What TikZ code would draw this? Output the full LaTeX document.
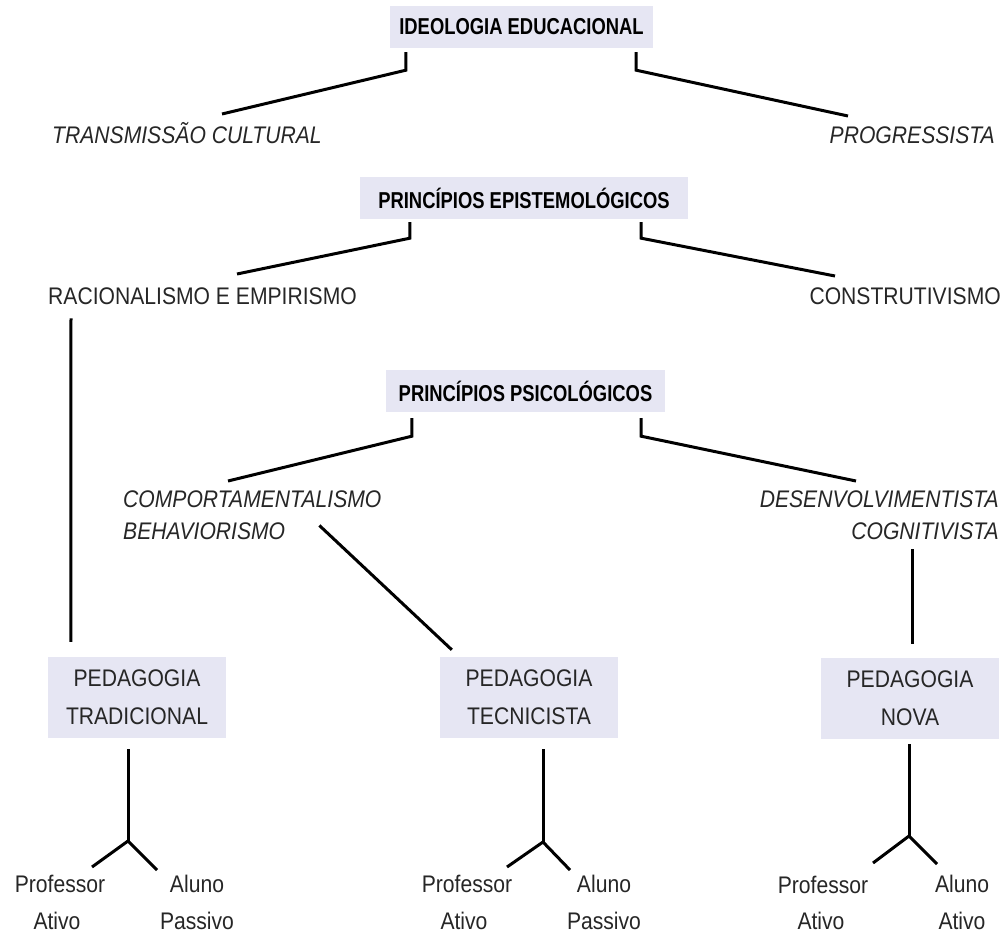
\documentclass[tikz,border=0pt]{standalone}
\usepackage{fontspec}
\setmainfont{Liberation Sans}[FakeStretch=0.88]
\newfontfamily\headfont{Liberation Sans}[FakeStretch=0.8]
\usetikzlibrary{calc}
\definecolor{boxfill}{RGB}{230,230,243}
\definecolor{ink}{RGB}{38,38,38}
\begin{document}
\begin{tikzpicture}[x=1pt,y=-1pt,
  headbox/.style={fill=boxfill, text=black, inner sep=0pt, minimum height=42pt,
    font=\headfont\bfseries\fontsize{23}{27}\selectfont},
  pedbox/.style={fill=boxfill, text=ink, inner sep=0pt, minimum width=178pt,
    minimum height=81pt, align=center, font=\fontsize{24}{38}\selectfont},
  lab/.style={text=ink, inner sep=0pt, font=\fontsize{24}{28}\selectfont},
  itlab/.style={lab, font=\itshape\fontsize{24}{28}\selectfont},
  link/.style={draw=black, line width=3pt, line join=miter}]
\useasboundingbox (0,0) rectangle (1006,935);

% level headings
\node[headbox, minimum width=263pt] (ideo) at (521.5,27) {IDEOLOGIA EDUCACIONAL};
\node[headbox, minimum width=328pt] (epis) at (524,198) {PRINCÍPIOS EPISTEMOLÓGICOS};
\node[headbox, minimum width=279pt] (psic) at (525.5,391) {PRINCÍPIOS PSICOLÓGICOS};

% branches
\node[itlab, anchor=base west] (trans) at (52,143) {TRANSMISSÃO CULTURAL};
\node[itlab, anchor=base east] (prog) at (995,143) {PROGRESSISTA};
\node[lab, anchor=base west] (rac) at (48,304) {RACIONALISMO E EMPIRISMO};
\node[lab, anchor=base east] (cons) at (1001,304) {CONSTRUTIVISMO};
\node[itlab, anchor=base west] (comp) at (123,507) {COMPORTAMENTALISMO};
\node[itlab, anchor=base west] (behav) at (123,539) {BEHAVIORISMO};
\node[itlab, anchor=base east] (desen) at (999,507) {DESENVOLVIMENTISTA};
\node[itlab, anchor=base east] (cogn) at (999,539) {COGNITIVISTA};

% pedagogies
\node[pedbox] (trad) at (137,697.5) {PEDAGOGIA\\TRADICIONAL};
\node[pedbox] (tecn) at (529,697.5) {PEDAGOGIA\\TECNICISTA};
\node[pedbox] (nova) at (910,698.5) {PEDAGOGIA\\NOVA};

% roles
\node[lab, anchor=base] (prof1) at (60,892) {Professor};
\node[lab, anchor=base] (pat1) at (57,929) {Ativo};
\node[lab, anchor=base] (alu1) at (197,892) {Aluno};
\node[lab, anchor=base] (aps1) at (197,929) {Passivo};
\node[lab, anchor=base] (prof2) at (467,892) {Professor};
\node[lab, anchor=base] (pat2) at (464,929) {Ativo};
\node[lab, anchor=base] (alu2) at (604,892) {Aluno};
\node[lab, anchor=base] (aps2) at (604,929) {Passivo};
\node[lab, anchor=base] (prof3) at (823,893) {Professor};
\node[lab, anchor=base] (pat3) at (821,929) {Ativo};
\node[lab, anchor=base] (alu3) at (962,892) {Aluno};
\node[lab, anchor=base] (aat3) at (962,929) {Ativo};

% connector end points
\coordinate (transend) at (222,114);
\coordinate (progend) at (848,116);
\coordinate (racend) at (237,274);
\coordinate (consend) at (835,276);
\coordinate (compend) at (228,481);
\coordinate (desenend) at (856,481);
\coordinate (cognend) at (912,549);

% heading connectors
\draw[link] ($(ideo.south west)+(16,4)$) -- ++(0,18) -- (transend);
\draw[link] ($(ideo.south east)+(-17,4)$) -- ++(0,18) -- (progend);
\draw[link] ($(epis.south west)+(50,3)$) -- ++(0,16) -- (racend);
\draw[link] ($(epis.south east)+(-47,3)$) -- ++(0,16) -- (consend);
\draw[link] ($(psic.south west)+(26,6)$) -- ++(0,18) -- (compend);
\draw[link] ($(psic.south east)+(-24,6)$) -- ++(0,18) -- (desenend);

% links down to the pedagogies
\draw[link] ($(rac.south west)+(23,14)$) -- ($(trad.north west)+(23,-15)$);
\draw[link] ($(behav.south east)+(34,-14)$) -- ($(tecn.north west)+(12,-7)$);
\draw[link] (cognend) -- ($(nova.north)+(2,-14)$);

% forks below each pedagogy
\coordinate (fk1) at (128,841);
\coordinate (fk2) at (543,842);
\coordinate (fk3) at (909,836);
\draw[link] ($(trad.south)+(-9,11)$) -- (fk1);
\draw[link] (fk1) -- (92,867);
\draw[link] (fk1) -- (157,870);
\draw[link] ($(tecn.south)+(14,11)$) -- (fk2);
\draw[link] (fk2) -- (507,867);
\draw[link] (fk2) -- (570,870);
\draw[link] ($(nova.south)+(-1,5)$) -- (fk3);
\draw[link] (fk3) -- (873,863);
\draw[link] (fk3) -- (937,864);
\end{tikzpicture}
\end{document}
